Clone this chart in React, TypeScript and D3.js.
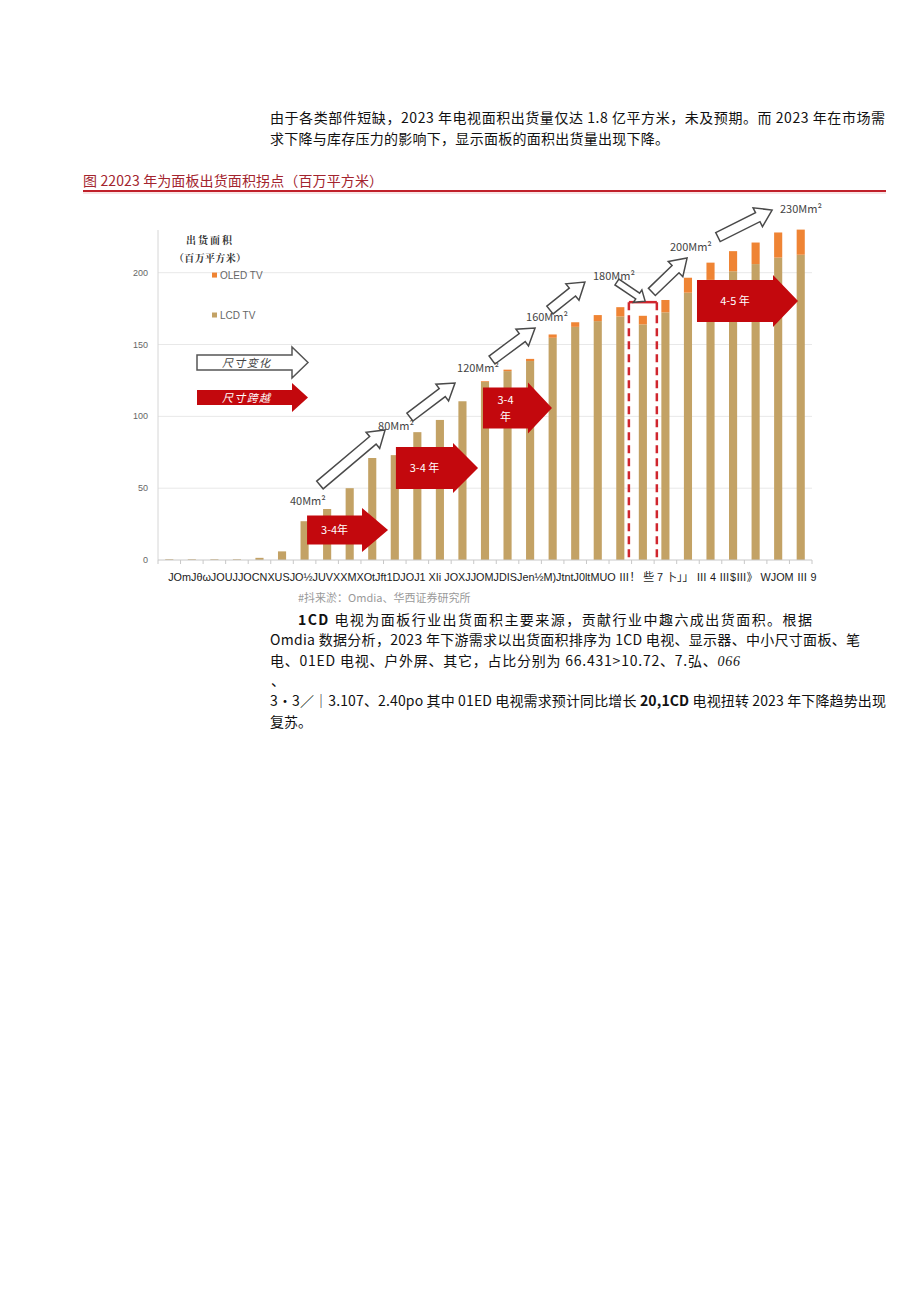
import React from "react";
import * as d3 from "d3";

// ---------- data ----------
const categories = [
  "c01","c02","c03","c04","c05","c06","c07","c08","c09","c10",
  "c11","c12","c13","c14","c15","c16","c17","c18","c19","c20",
  "c21","c22","c23","c24","c25","c26","c27","c28","c29",
];
const lcdValues = [
  0.5, 0.5, 0.5, 0.5, 1.5, 6, 27, 35.5, 50, 71,
  73, 89, 97.5, 110.5, 124, 131.5, 138.5, 154.7, 162.3, 166.3,
  169.5, 164, 172.4, 186.1, 195, 201, 206, 210.5, 212.5,
];
const oledValues = [
  0, 0, 0, 0, 0, 0, 0, 0, 0, 0,
  0, 0, 0, 0, 0.5, 1, 1.5, 2.3, 3.2, 4.2,
  6.5, 6, 8.6, 10.4, 12, 14, 15, 17.5, 17.5,
];
const yTicks = [0, 50, 100, 150, 200];
const seriesNames = ["OLED TV", "LCD TV"];
// garbled category label strip as printed in the source
const xLabelText = "JOmJθωJOUJJOCNXUSJO½JUVXXMXOtJft1DJOJ1 XIi JOXJJOMJDISJen½M)JtntJ0ltMUO Ⅲ！ 些 7 卜」」 Ⅲ 4 Ⅲ$Ⅲ》 WJOM Ⅲ 9";
// milestone labels (bar-index, value)
const milestoneLabels = [
  { text: "40Mm²", i: 5.35, v: 38.3 },
  { text: "80Mm²", i: 9.26, v: 90.5 },
  { text: "120Mm²", i: 12.76, v: 130.9 },
  { text: "160Mm²", i: 15.82, v: 166.4 },
  { text: "180Mm²", i: 18.79, v: 194.9 },
  { text: "200Mm²", i: 22.2, v: 215.1 },
  { text: "230Mm²", i: 27.08, v: 241.6 },
];
// hollow trend arrows (tail -> tip) in (bar-index, value)
const trendArrows = [
  { i0: 6.68, v0: 52.2, i1: 9.57, v1: 90.5, small: false },
  { i0: 10.67, v0: 99.5, i1: 12.67, v1: 123.2, small: false },
  { i0: 14.31, v0: 139.2, i1: 16.22, v1: 161.5, small: false },
  { i0: 16.88, v0: 174.0, i1: 18.43, v1: 193.5, small: false },
  { i0: 19.85, v0: 193.5, i1: 21.1, v1: 180.2, small: true },
  { i0: 21.4, v0: 186.6, i1: 22.96, v1: 210.2, small: false },
  { i0: 24.33, v0: 224.8, i1: 26.73, v1: 243.6, small: false },
];
// red "size jump" arrows
const jumpArrows = [
  { i0: 6.11, i1: 9.7, v: 20.9, lines: ["3-4年"], bh: 14.5, hh: 22, hl: 26 },
  { i0: 10.05, i1: 13.69, v: 64.0, lines: ["3-4 年"], bh: 21, hh: 25, hl: 25 },
  { i0: 13.91, i1: 16.97, v: 105.8, lines: ["3-4", "年"], bh: 20.5, hh: 25.5, hl: 24 },
  { i0: 23.4, i1: 27.88, v: 180.3, lines: ["4-5 年"], bh: 21, hh: 26, hl: 25 },
];
const highlightIndex = 21;

const para1 = [
  "由于各类部件短缺，2023 年电视面积出货量仅达 1.8 亿平方米，未及预期。而 2023 年在市场需",
  "求下降与库存压力的影响下，显示面板的面积出货量出现下降。",
];
const titleText = "图 22023 年为面板出货面积拐点（百万平方米）";
const sourceText = "#抖来淤：Omdia、华西证券研究所";

// ---------- helpers ----------
function arrowPath(x0: number, y0: number, x1: number, y1: number, b: number, H: number, h: number) {
  const L = Math.hypot(x1 - x0, y1 - y0);
  const a = (Math.atan2(y1 - y0, x1 - x0) * 180) / Math.PI;
  const d = `M0,${-b}L${L - h},${-b}L${L - h},${-H}L${L},0L${L - h},${H}L${L - h},${b}L0,${b}Z`;
  return { d, transform: `translate(${x0},${y0}) rotate(${a})` };
}

const CN = "'Liberation Sans Narrow','Noto Sans CJK SC',sans-serif";
const LAT = "'Liberation Sans',Arial,'Noto Sans CJK SC',sans-serif";

export default function App() {
  const W = 920, H = 1301;
  const left = 158, right = 812, bottom = 560;
  const x = d3.scaleBand<string>().domain(categories).range([left, right]).paddingInner(0.64).paddingOuter(0.32);
  const xPos = d3.scaleLinear().domain([-0.5, categories.length - 0.5]).range([left, right]);
  const y = d3.scaleLinear().domain([0, 200]).range([bottom, 272.7]);
  const yTop = y(229.7);

  const rows = categories.map((c, i) => ({ cat: c, lcd: lcdValues[i], oled: oledValues[i] }));
  const stack = d3.stack<any>().keys(["lcd", "oled"])(rows);
  const colors: Record<string, string> = { lcd: "#c3a265", oled: "#ef8434" };

  const red = "#c3080d";

  const hx = xPos(highlightIndex - 0.62);
  const hx2 = xPos(highlightIndex + 0.62);
  const hTop = y(179.5);

  const labStart = xPos(-0.05);
  const labEnd = xPos(28.7);

  return (
    <svg width={W} height={H} style={{ position: "absolute", left: 0, top: 0, background: "#fff" }}>
      {/* paragraph 1 */}
      <text x={270} y={123} fontSize={14} fontFamily={CN} fill="#111" textLength={615} lengthAdjust="spacing">{para1[0]}</text>
      <text x={270} y={144} fontSize={14} fontFamily={CN} fill="#111" textLength={399} lengthAdjust="spacing">{para1[1]}</text>

      {/* title */}
      <text x={83} y={186} fontSize={14} fontFamily={CN} fill="#a3242e" textLength={300} lengthAdjust="spacing">{titleText}</text>
      <line x1={83} x2={886} y1={191} y2={191} stroke="#c0202a" strokeWidth={2} />
      <line x1={83} x2={886} y1={193} y2={193} stroke="#f1c9cb" strokeWidth={1} />

      {/* gridlines */}
      {yTicks.filter((t) => t > 0).map((t) => (
        <line key={t} x1={left} x2={right} y1={y(t)} y2={y(t)} stroke="#e8e8e8" strokeWidth={1} />
      ))}
      <line x1={left} x2={left} y1={yTop} y2={bottom} stroke="#d6d6d6" strokeWidth={1} />
      {yTicks.map((t) => (
        <text key={t} x={148} y={y(t) + 3} fontSize={9} fontFamily={LAT} fill="#666" textAnchor="end">{t}</text>
      ))}

      {/* bars */}
      {stack.map((s) => (
        <g key={s.key} fill={colors[s.key]}>
          {s.map((d, i) => (
            d[1] - d[0] > 0 ? (
              <rect key={i} x={x(categories[i])} width={x.bandwidth()} y={y(d[1])} height={y(d[0]) - y(d[1])} />
            ) : null
          ))}
        </g>
      ))}

      {/* x axis */}
      <line x1={left} x2={right} y1={bottom} y2={bottom} stroke="#c8c8c8" strokeWidth={1} />
      {d3.range(categories.length + 1).map((k) => (
        <line key={k} x1={xPos(k - 0.5)} x2={xPos(k - 0.5)} y1={bottom} y2={bottom + 4} stroke="#c8c8c8" />
      ))}
      <text x={labStart} y={581} fontSize={11} fontFamily={LAT} fill="#1a1a1a"
        textLength={labEnd - labStart} lengthAdjust="spacingAndGlyphs">{xLabelText}</text>

      {/* legend */}
      <text x={186} y={244} fontSize={10} fontWeight="bold" fontFamily="'Noto Serif CJK SC','Noto Sans CJK SC',serif" fill="#333" textLength={46} lengthAdjust="spacing">出货面积</text>
      <text x={174} y={262} fontSize={10} fontWeight="bold" fontFamily="'Noto Serif CJK SC','Noto Sans CJK SC',serif" fill="#333" textLength={72} lengthAdjust="spacing">（百万平方米）</text>
      {seriesNames.map((n, k) => (
        <g key={n} transform={`translate(212,${y(k === 0 ? 198 : 170.2)})`}>
          <rect x={0} y={-3} width={5} height={5} fill={k === 0 ? colors.oled : colors.lcd} />
          <text x={8} y={3} fontSize={10} fontFamily={LAT} fill="#666">{n}</text>
        </g>
      ))}
      {(() => {
        const a1 = arrowPath(197, 362.5, 308, 362.5, 7.5, 15.5, 16);
        const a2 = arrowPath(197, 397.5, 308, 397.5, 7.5, 14.5, 16);
        return (
          <g>
            <path d={a1.d} transform={a1.transform} fill="#fff" stroke="#555" strokeWidth={1.5} />
            <text x={222} y={367} fontSize={11} fontStyle="italic" fontFamily="'Noto Sans CJK SC',sans-serif" fill="#444" textLength={48} lengthAdjust="spacing">尺寸变化</text>
            <path d={a2.d} transform={a2.transform} fill={red} />
            <text x={222} y={402} fontSize={11} fontStyle="italic" fontFamily="'Noto Sans CJK SC',sans-serif" fill="#fff" textLength={48} lengthAdjust="spacing">尺寸跨越</text>
          </g>
        );
      })()}

      {/* highlight dashed box */}
      <g stroke="#d0262e" strokeWidth={2.5} fill="none">
        <line x1={hx} x2={hx} y1={hTop} y2={bottom} strokeDasharray="8 5" />
        <line x1={hx2} x2={hx2} y1={hTop} y2={bottom} strokeDasharray="8 5" />
        <line x1={hx} x2={hx2} y1={hTop} y2={hTop} />
      </g>

      {/* red jump arrows */}
      {jumpArrows.map((a, k) => {
        const p = arrowPath(xPos(a.i0), y(a.v), xPos(a.i1), y(a.v), a.bh, a.hh, a.hl);
        const cx = (xPos(a.i0) + xPos(a.i1) - a.hl) / 2;
        return (
          <g key={k}>
            <path d={p.d} transform={p.transform} fill={red} />
            {a.lines.map((l, j) => (
              <text key={j} x={cx} y={y(a.v) + 4 + (j - (a.lines.length - 1) / 2) * 17} fontSize={11}
                fontFamily={CN} fill="#fff" textAnchor="middle">{l}</text>
            ))}
          </g>
        );
      })}

      {/* hollow trend arrows */}
      {trendArrows.map((a, k) => {
        const p = a.small
          ? arrowPath(xPos(a.i0), y(a.v0), xPos(a.i1), y(a.v1), 3.5, 7.5, 9)
          : arrowPath(xPos(a.i0), y(a.v0), xPos(a.i1), y(a.v1), 5, 10.5, 16);
        return <path key={k} d={p.d} transform={p.transform} fill="#fff" stroke="#4a4a4a" strokeWidth={1.5} strokeLinejoin="miter" />;
      })}

      {/* milestone labels */}
      {milestoneLabels.map((m) => (
        <text key={m.text} x={xPos(m.i)} y={y(m.v)} fontSize={11} fontFamily={CN} fill="#444">{m.text}</text>
      ))}

      {/* source */}
      <text x={298} y={602} fontSize={11} fontFamily="'Noto Sans CJK SC',sans-serif" fill="#9a9a9a">{sourceText}</text>

      {/* paragraph 2 */}
      <text x={298} y={625} fontSize={14} fontFamily={CN} fill="#111" textLength={514} lengthAdjust="spacing">
        <tspan fontWeight="bold">1CD</tspan> 电视为面板行业出货面积主要来源，贡献行业中趣六成出货面积。根据
      </text>
      <text x={270} y={645} fontSize={14} fontFamily={CN} fill="#111" textLength={590} lengthAdjust="spacing">
        Omdia 数据分析，2023 年下游需求以出货面积排序为 1CD 电视、显示器、中小尺寸面板、笔
      </text>
      <text x={270} y={666} fontSize={14} fontFamily={CN} fill="#111" textLength={470} lengthAdjust="spacing">
        电、01ED 电视、户外屏、其它，占比分别为 66.431&gt;10.72、7.弘、<tspan fontStyle="italic" fontFamily="'Liberation Serif',serif">066</tspan>
      </text>
      <text x={271} y={686} fontSize={14} fontFamily={CN} fill="#111">、</text>
      <text x={270} y={706} fontSize={14} fontFamily={CN} fill="#111" textLength={616} lengthAdjust="spacing">
        3·3／｜3.107、2.40po 其中 01ED 电视需求预计同比增长 <tspan fontWeight="bold">20,1CD</tspan> 电视扭转 2023 年下降趋势出现
      </text>
      <text x={270} y={727} fontSize={14} fontFamily={CN} fill="#111">复苏。</text>
    </svg>
  );
}
